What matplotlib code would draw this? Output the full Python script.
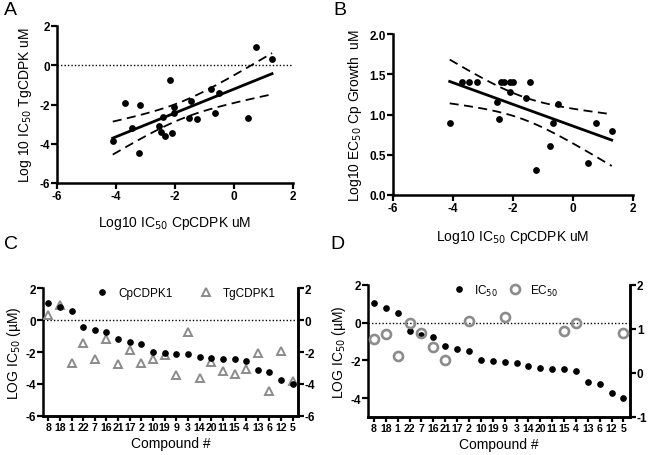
import numpy as np
import matplotlib
matplotlib.use("Agg")
import matplotlib.pyplot as plt
from matplotlib.lines import Line2D

plt.rcParams['font.family'] = ['Liberation Sans', 'DejaVu Sans']

# ---------------- Data ----------------
# Panel A: log10 IC50 CpCDPK vs log10 IC50 TgCDPK
a_x = [-4.11, -3.69, -3.46, -3.19, -3.22, -2.16, -2.41, -2.54, -2.48, -2.35, -2.10,
       -2.05, -2.02, -1.45, -1.54, -1.24, -0.77, -0.65, -0.50, 0.49, 0.76, 1.29]
a_y = [-3.88, -1.91, -3.18, -2.04, -4.45, -0.77, -2.64, -3.08, -3.38, -3.62, -3.47,
       -2.13, -2.41, -1.80, -2.67, -2.75, -1.19, -2.41, -1.41, -2.68, 0.91, 0.30]

# Panel B: log10 IC50 CpCDPK vs log10 EC50 Cp growth
b_x = [-4.11, -3.70, -3.48, -3.20, -2.54, -2.48, -2.39, -2.31, -2.10, -2.10, -1.99,
       -1.56, -1.42, -1.24, -0.78, -0.66, -0.50, 0.51, 0.76, 1.29]
b_y = [0.90, 1.40, 1.40, 1.40, 1.15, 0.95, 1.40, 1.40, 1.28, 1.40, 1.40,
       1.20, 1.40, 0.31, 0.61, 0.90, 1.13, 0.40, 0.89, 0.79]

# Panels C/D: compounds sorted by CpCDPK1 IC50
compounds = ['8', '18', '1', '22', '7', '16', '21', '17', '2', '10', '19', '9', '3',
             '14', '20', '11', '15', '4', '13', '6', '12', '5']
cp_ic50 = [1.04, 0.79, 0.54, -0.46, -0.65, -0.75, -1.21, -1.40, -1.50, -2.00, -2.04,
           -2.10, -2.15, -2.31, -2.40, -2.46, -2.46, -2.54, -3.15, -3.23, -3.73, -4.00]
tg_ic50 = [0.33, 0.94, -2.71, -1.42, -2.42, -1.19, -2.75, -1.85, -2.69, -2.44, -2.17,
           -3.46, -0.77, -3.63, -2.65, -3.19, -3.38, -3.08, -2.06, -4.42, -1.92, -3.83]
# Panel D EC50 (right axis), only compounds with measured values
ec50_compounds = ['8', '18', '1', '22', '7', '16', '21', '2', '9', '15', '4', '5']
ec50_vals = [0.77, 0.88, 0.39, 1.13, 0.90, 0.60, 0.30, 1.19, 1.28, 0.95, 1.14, 0.90]

T_CRIT = 2.086  # t(0.975, df~20)

fig = plt.figure(figsize=(6.5, 4.56), dpi=100)

TICKFS = 8.5
CATFS = 7.6
LABFS = 10
GREY = '#8c8c8c'


def fx(px):
    return px / 650


def fy(py):
    return 1 - py / 456


def set_ticks(ax, axis, vals, labels=None, fs=TICKFS):
    if labels is None:
        labels = [('%g' % v) for v in vals]
    if axis == 'x':
        ax.set_xticks(vals, labels, fontweight='bold', fontsize=fs)
    else:
        ax.set_yticks(vals, labels, fontweight='bold', fontsize=fs)


def style_axes(ax, right=False, left=True):
    ax.spines['top'].set_visible(False)
    if not right:
        ax.spines['right'].set_visible(False)
    if not left:
        ax.spines['left'].set_visible(False)
    for s in ax.spines.values():
        s.set_linewidth(1.8)
    ax.tick_params(direction='out', width=1.6, length=4, pad=1)


def reg_with_ci(ax, x, y, lo, hi):
    x = np.asarray(x, float)
    y = np.asarray(y, float)
    n = len(x)
    slope, intercept = np.polyfit(x, y, 1)
    resid = y - (slope * x + intercept)
    s = np.sqrt(np.sum(resid ** 2) / (n - 2))
    xx = np.linspace(lo, hi, 100)
    yy = slope * xx + intercept
    se = s * np.sqrt(1.0 / n + (xx - x.mean()) ** 2 / np.sum((x - x.mean()) ** 2))
    ax.plot(xx, yy, color='black', lw=2.0, zorder=3)
    ax.plot(xx, yy + T_CRIT * se, color='black', lw=1.3, ls=(0, (5, 3)), zorder=3)
    ax.plot(xx, yy - T_CRIT * se, color='black', lw=1.3, ls=(0, (5, 3)), zorder=3)


# ---------------- Panel A ----------------
axA = fig.add_axes([fx(57), fy(184), fx(236), 157 / 456])
axA.scatter(a_x, a_y, s=24, color='black', zorder=4, linewidths=0)
reg_with_ci(axA, a_x, a_y, min(a_x), max(a_x))
axA.axhline(0, color='black', lw=1.0, ls=(0, (1, 1.5)), zorder=1)
axA.set_xlim(-6, 2)
axA.set_ylim(-6, 2)
set_ticks(axA, 'x', [-6, -4, -2, 0, 2])
set_ticks(axA, 'y', [-6, -4, -2, 0, 2])
style_axes(axA)
axA.set_xlabel('Log10 IC$_{50}$ CpCDPK uM', fontsize=LABFS, labelpad=9)
axA.set_ylabel('Log 10 IC$_{50}$ TgCDPK uM', fontsize=LABFS, labelpad=4)

# ---------------- Panel B ----------------
axB = fig.add_axes([fx(393), fy(196), fx(240), 161 / 456])
axB.scatter(b_x, b_y, s=24, color='black', zorder=4, linewidths=0)
reg_with_ci(axB, b_x, b_y, min(b_x), max(b_x))
axB.set_xlim(-6, 2)
axB.set_ylim(0, 2)
set_ticks(axB, 'x', [-6, -4, -2, 0, 2])
set_ticks(axB, 'y', [0, 0.5, 1.0, 1.5, 2.0], ['0.0', '0.5', '1.0', '1.5', '2.0'])
style_axes(axB)
axB.set_xlabel('Log10 IC$_{50}$ CpCDPK uM', fontsize=LABFS, labelpad=10)
axB.set_ylabel('Log10 EC$_{50}$ Cp Growth  uM', fontsize=LABFS, labelpad=4)

pos = np.arange(len(compounds))

# ---------------- Panel C ----------------
axC = fig.add_axes([fx(43), fy(417), fx(255), 128 / 456])
axC.plot(pos, cp_ic50, 'o', color='black', ms=3.8, zorder=4)
axC.plot(pos, tg_ic50, '^', mfc='white', mec=GREY, mew=1.4, ms=5.5, zorder=3)
axC.axhline(0, color='black', lw=1.0, ls=(0, (1, 1.5)), zorder=1)
axC.set_xlim(-0.45, 21.45)
axC.set_ylim(-6, 2)
set_ticks(axC, 'y', [-6, -4, -2, 0, 2])
set_ticks(axC, 'x', pos, compounds, fs=CATFS)
style_axes(axC, right=True)
axC.tick_params(axis='x', length=3.5, pad=1)
axCr = axC.twinx()
axCr.set_ylim(-6, 2)
set_ticks(axCr, 'y', [-6, -4, -2, 0, 2])
style_axes(axCr, right=True, left=False)
axC.set_xlabel('Compound #', fontsize=LABFS, labelpad=3)
axC.set_ylabel('LOG IC$_{50}$ (\u00b5M)', fontsize=LABFS, labelpad=2)
hC = [Line2D([], [], ls='', marker='o', color='black', ms=3.8),
      Line2D([], [], ls='', marker='^', mfc='white', mec=GREY, mew=1.4, ms=5.5)]
fig.legend(hC, ['CpCDPK1', 'TgCDPK1'], ncol=2, frameon=False, fontsize=8.5,
           loc='center left', bbox_to_anchor=(fx(96), fy(294.5)),
           bbox_transform=fig.transFigure, borderpad=0, borderaxespad=0,
           handlelength=1.0, handletextpad=0.9, columnspacing=2.3)

# ---------------- Panel D ----------------
axD = fig.add_axes([fx(368), fy(418), fx(262), 132 / 456])
axD.plot(pos, cp_ic50, 'o', color='black', ms=3.8, zorder=4)
axD.axhline(0, color='black', lw=1.0, ls=(0, (1, 1.5)), zorder=1)
axD.set_xlim(-0.5, 21.55)
axD.set_ylim(-5, 2)
set_ticks(axD, 'y', [-4, -2, 0, 2])
set_ticks(axD, 'x', pos, compounds, fs=CATFS)
style_axes(axD, right=True)
axD.tick_params(axis='x', length=3.5, pad=1)
axDr = axD.twinx()
ec_pos = [compounds.index(c) for c in ec50_compounds]
axDr.plot(ec_pos, ec50_vals, 'o', mfc='none', mec=GREY, mew=1.9, ms=6.5, zorder=3)
axDr.set_ylim(-1, 2)
set_ticks(axDr, 'y', [-1, 0, 1, 2])
style_axes(axDr, right=True, left=False)
axD.set_xlabel('Compound #', fontsize=LABFS, labelpad=3)
axD.set_ylabel('LOG IC$_{50}$ (\u00b5M)', fontsize=LABFS, labelpad=2)
hD = [Line2D([], [], ls='', marker='o', color='black', ms=3.8),
      Line2D([], [], ls='', marker='o', mfc='none', mec=GREY, mew=1.9, ms=6.5)]
fig.legend(hD, ['IC$_{50}$', 'EC$_{50}$'], ncol=2, frameon=False, fontsize=8.5,
           loc='center left', bbox_to_anchor=(fx(453), fy(291)),
           bbox_transform=fig.transFigure, borderpad=0, borderaxespad=0,
           handlelength=1.0, handletextpad=0.8, columnspacing=0.9)

# Panel letters
for letter, x, y in [('A', 4, 2), ('B', 333, 2), ('C', 4, 236), ('D', 330, 236)]:
    fig.text(fx(x), fy(y), letter, fontsize=14, va='top', ha='left')

fig.savefig('out.png', dpi=100)
